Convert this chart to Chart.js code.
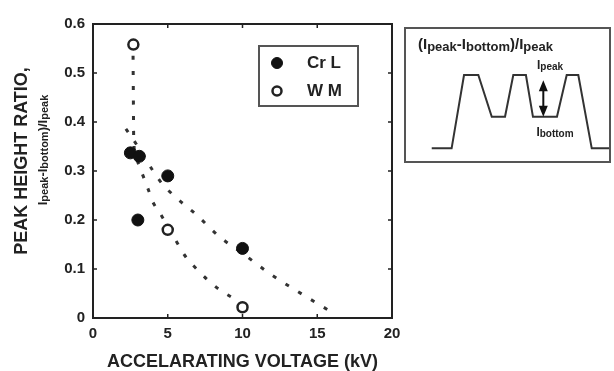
<!DOCTYPE html>
<html>
<head>
<meta charset="utf-8">
<script src="https://cdn.jsdelivr.net/npm/chart.js@4.4.1/dist/chart.umd.min.js"></script>
<style>
  html, body { margin: 0; padding: 0; background: #fff; }
  #wrap { position: relative; width: 614px; height: 371px; }
  #main { position: absolute; left: 0; top: 0; }
  #inset { position: absolute; left: 404px; top: 27px; }
</style>
</head>
<body>
<div id="wrap">
  <canvas id="main" width="614" height="371"></canvas>
  <canvas id="inset" width="207" height="136"></canvas>
</div>
<script>
'use strict'
const FONT = "'Liberation Sans', Arial, sans-serif";
const INK = '#222';

// measured points
const crLX = [2.5, 3.0, 3.1, 5, 10];
const crLY = [0.337, 0.2, 0.33, 0.29, 0.142];
const wmX = [2.7, 5, 10];
const wmY = [0.558, 0.18, 0.022];

// dotted guide curves
const crFitX = [2.2, 3.0, 4.0, 4.6, 5.4, 6.9, 8.5, 10, 11.9, 13.7, 15.8];
const crFitY = [0.386, 0.35, 0.301, 0.275, 0.25, 0.211, 0.165, 0.132, 0.089, 0.054, 0.015];
const wmFitX = [2.68, 2.7, 2.72, 2.85, 3.3, 3.7, 4.0, 4.5, 5.6, 6.2, 6.9, 7.7, 8.5, 9.4, 10.0];
const wmFitY = [0.535, 0.45, 0.37, 0.33, 0.294, 0.262, 0.237, 0.213, 0.155, 0.125, 0.101, 0.077, 0.057, 0.04, 0.028];

const xTicks = [0, 5, 10, 15, 20];
const yTicks = [0, 0.1, 0.2, 0.3, 0.4, 0.5, 0.6];

// inset schematic: time (arbitrary) vs signal level
const waveT = [13.4, 23.0, 29.0, 35.9, 42.4, 48.8, 52.8, 58.9, 62.3, 73.9, 78.6, 84.2, 90.7, 100];
const waveLevel = [0, 0, 1, 1, 0.43, 0.43, 1, 1, 0.43, 0.43, 1, 1, 0, 0];

const pts = (xs, ys) => xs.map((x, i) => ({ x: x, y: ys[i] }));

function drawRuns(ctx, runs, x, y, align) {
  let total = 0;
  runs.forEach(r => { ctx.font = 'bold ' + r[1] + 'px ' + FONT; total += ctx.measureText(r[0]).width; });
  let cx = align === 'center' ? x - total / 2 : x;
  ctx.textAlign = 'left';
  ctx.textBaseline = 'middle';
  runs.forEach(r => {
    ctx.font = 'bold ' + r[1] + 'px ' + FONT;
    ctx.fillText(r[0], cx, y + (r[2] || 0));
    cx += ctx.measureText(r[0]).width;
  });
}

const framePlugin = {
  id: 'frame',
  afterDraw(chart) {
    const ctx = chart.ctx, a = chart.chartArea;
    const xs = chart.scales.x, ys = chart.scales.y;
    ctx.save();
    ctx.strokeStyle = INK;
    ctx.lineWidth = 2;
    ctx.strokeRect(a.left, a.top, a.right - a.left, a.bottom - a.top);
    ctx.lineWidth = 1.5;
    ctx.beginPath();
    xTicks.forEach(v => {
      const px = xs.getPixelForValue(v);
      ctx.moveTo(px, a.bottom); ctx.lineTo(px, a.bottom - 4);
      ctx.moveTo(px, a.top); ctx.lineTo(px, a.top + 4);
    });
    yTicks.forEach(v => {
      const py = ys.getPixelForValue(v);
      ctx.moveTo(a.left, py); ctx.lineTo(a.left + 4, py);
      ctx.moveTo(a.right, py); ctx.lineTo(a.right - 4, py);
    });
    ctx.stroke();

    // y-axis title, two rotated lines
    ctx.fillStyle = INK;
    ctx.save();
    ctx.translate(22, 161);
    ctx.rotate(-Math.PI / 2);
    ctx.font = 'bold 18px ' + FONT;
    ctx.textAlign = 'center';
    ctx.textBaseline = 'middle';
    ctx.fillText('PEAK HEIGHT RATIO,', 0, 0);
    ctx.restore();
    ctx.save();
    ctx.translate(43, 150);
    ctx.rotate(-Math.PI / 2);
    drawRuns(ctx, [['I', 13], ['peak', 11, 2], ['-I', 13], ['bottom', 11, 2], [')/I', 13], ['peak', 11, 2]], 0, 0, 'center');
    ctx.restore();

    // legend box
    const ds = chart.data.datasets;
    ctx.strokeStyle = '#555';
    ctx.lineWidth = 2;
    ctx.strokeRect(259, 46, 99, 60);
    [[ds[0], 63, 5.5], [ds[1], 91, 4.5]].forEach(([d, y, r]) => {
      ctx.beginPath();
      ctx.arc(277, y, r, 0, Math.PI * 2);
      ctx.fillStyle = d.pointBackgroundColor;
      ctx.fill();
      ctx.lineWidth = d.pointBorderWidth;
      ctx.strokeStyle = d.pointBorderColor;
      ctx.stroke();
      ctx.fillStyle = INK;
      ctx.font = 'bold 17px ' + FONT;
      ctx.textAlign = 'left';
      ctx.textBaseline = 'middle';
      ctx.fillText(d.label, 307, y);
    });
    ctx.restore();
  }
};

new Chart(document.getElementById('main'), {
  type: 'scatter',
  data: {
    datasets: [
      {
        label: 'Cr L',
        data: pts(crLX, crLY),
        pointRadius: 6,
        pointBackgroundColor: '#111',
        pointBorderColor: '#111',
        pointBorderWidth: 1,
        order: 1
      },
      {
        label: 'W M',
        data: pts(wmX, wmY),
        pointRadius: 5,
        pointBackgroundColor: '#fff',
        pointBorderColor: '#222',
        pointBorderWidth: 2.5,
        order: 1
      },
      {
        label: 'Cr L fit',
        data: pts(crFitX, crFitY),
        showLine: true,
        pointRadius: 0,
        borderColor: '#333',
        borderWidth: 3,
        borderDash: [4, 11],
        cubicInterpolationMode: 'monotone',
        order: 2
      },
      {
        label: 'W M fit',
        data: pts(wmFitX, wmFitY),
        showLine: true,
        pointRadius: 0,
        borderColor: '#333',
        borderWidth: 3,
        borderDash: [4, 11],
        cubicInterpolationMode: 'monotone',
        order: 2
      }
    ]
  },
  options: {
    responsive: false,
    animation: false,
    events: [],
    layout: { padding: { left: 0, right: 222, top: 24, bottom: 0 } },
    plugins: {
      legend: { display: false },
      tooltip: { enabled: false }
    },
    scales: {
      x: {
        type: 'linear',
        min: 0,
        max: 20,
        afterFit(s) { s.height = 53; },
        afterBuildTicks(s) { s.ticks = xTicks.map(v => ({ value: v })); },
        grid: { display: false, drawTicks: false },
        border: { display: false },
        ticks: {
          autoSkip: false, maxRotation: 0, padding: 7, color: INK,
          font: { family: FONT, size: 15, weight: 'bold' },
          callback: v => String(v)
        },
        title: {
          display: true,
          text: 'ACCELARATING VOLTAGE (kV)',
          color: INK,
          padding: { top: 0, bottom: 0 },
          font: { family: FONT, size: 18, weight: 'bold', lineHeight: 1 }
        }
      },
      y: {
        type: 'linear',
        min: 0,
        max: 0.6,
        afterFit(s) { s.width = 93; },
        afterBuildTicks(s) { s.ticks = yTicks.map(v => ({ value: v })); },
        grid: { display: false, drawTicks: false },
        border: { display: false },
        ticks: {
          autoSkip: false, padding: 8, color: INK,
          font: { family: FONT, size: 15, weight: 'bold' },
          callback: v => (v === 0 ? '0' : v.toFixed(1))
        }
      }
    }
  },
  plugins: [framePlugin]
});

const insetDeco = {
  id: 'insetDeco',
  afterDraw(chart) {
    const ctx = chart.ctx, xs = chart.scales.x, ys = chart.scales.y;
    ctx.save();
    ctx.strokeStyle = '#555';
    ctx.lineWidth = 2;
    ctx.strokeRect(1, 1, chart.width - 2, chart.height - 2);

    // double arrow between peak and bottom
    const ax = xs.getPixelForValue(67.3);
    const yTop = ys.getPixelForValue(0.93), yBot = ys.getPixelForValue(0.43);
    ctx.fillStyle = '#111';
    ctx.strokeStyle = '#111';
    ctx.lineWidth = 2;
    ctx.beginPath();
    ctx.moveTo(ax, yTop + 8); ctx.lineTo(ax, yBot - 8);
    ctx.stroke();
    ctx.beginPath();
    ctx.moveTo(ax, yTop); ctx.lineTo(ax - 4.5, yTop + 11); ctx.lineTo(ax + 4.5, yTop + 11); ctx.closePath();
    ctx.moveTo(ax, yBot); ctx.lineTo(ax - 4.5, yBot - 11); ctx.lineTo(ax + 4.5, yBot - 11); ctx.closePath();
    ctx.fill();

    ctx.fillStyle = INK;
    drawRuns(ctx, [['(I', 15], ['peak', 13, 2], ['-I', 15], ['bottom', 13, 2], [')/I', 15], ['peak', 13, 2]], 14, 18, 'left');
    drawRuns(ctx, [['I', 12], ['peak', 10, 1]], 146, 39, 'center');
    drawRuns(ctx, [['I', 12], ['bottom', 10, 1]], 151, 106, 'center');
    ctx.restore();
  }
};

new Chart(document.getElementById('inset'), {
  type: 'line',
  data: {
    datasets: [{
      data: pts(waveT, waveLevel),
      borderColor: '#333',
      borderWidth: 2,
      pointRadius: 0,
      tension: 0
    }]
  },
  options: {
    responsive: false,
    animation: false,
    events: [],
    layout: { padding: 0 },
    plugins: { legend: { display: false }, tooltip: { enabled: false } },
    scales: {
      x: { type: 'linear', display: false, min: 0, max: 100 },
      y: { display: false, min: -0.2, max: 1.655 }
    }
  },
  plugins: [insetDeco]
});
</script>
</body>
</html>
